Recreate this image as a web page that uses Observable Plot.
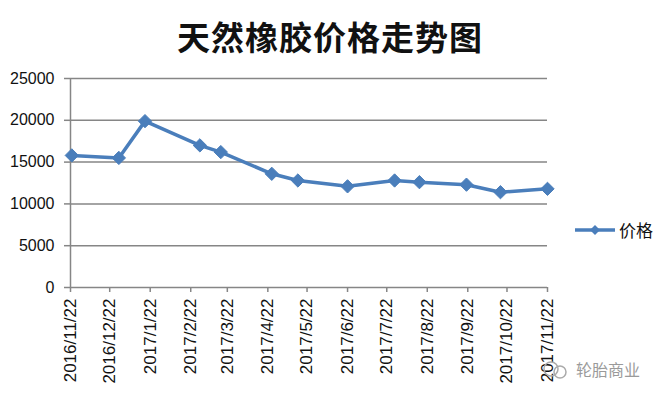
<!DOCTYPE html>
<html>
<head>
<meta charset="utf-8">
<script src="https://cdn.jsdelivr.net/npm/d3@7"></script>
<script src="https://cdn.jsdelivr.net/npm/@observablehq/plot@0.6"></script>
<style>
  body { margin: 0; background: #fff; }
  #wrap { position: relative; width: 660px; height: 400px; overflow: hidden; }
  #title { height: 60px; line-height: 72px; text-align: center; font-family: "Noto Sans CJK SC", sans-serif; font-weight: 700; font-size: 33px; color: #111; letter-spacing: 1px; }
  #legend { position: absolute; left: 574px; top: 217px; display: flex; align-items: center; font-family: "Noto Sans CJK SC", sans-serif; font-size: 17px; color: #111; }
  #mark { position: absolute; left: 540px; top: 357px; display: flex; align-items: center; font-family: "Noto Sans CJK SC", sans-serif; font-size: 16px; color: #9a9a9a; }
</style>
</head>
<body>
<div id="wrap">
  <div id="title">天然橡胶价格走势图</div>
  <div id="chart"></div>
  <div id="legend"></div>
  <div id="mark"></div>
</div>
<script>
const dates = ["2016-11-23","2016-12-29","2017-01-18","2017-03-01","2017-03-17","2017-04-25","2017-05-15","2017-06-22","2017-07-28","2017-08-16","2017-09-21","2017-10-17","2017-11-22"];
const prices = [15800,15500,19900,17000,16200,13600,12800,12100,12800,12600,12300,11400,11800];
const tickDates = ["2016-11-22","2016-12-22","2017-01-22","2017-02-22","2017-03-22","2017-04-22","2017-05-22","2017-06-22","2017-07-22","2017-08-22","2017-09-22","2017-10-22","2017-11-22"];
const yTicks = [0,5000,10000,15000,20000,25000];
const seriesName = "价格";
const color = "#4a7ebb";

const parse = d3.utcParse("%Y-%m-%d");
const data = dates.map((d, i) => ({date: parse(d), price: prices[i]}));
const xt = tickDates.map(parse);
const fmt = d => `${d.getUTCFullYear()}/${d.getUTCMonth() + 1}/${d.getUTCDate()}`;

const chart = Plot.plot({
  width: 660,
  height: 340,
  marginLeft: 70,
  marginRight: 113,
  marginTop: 18,
  marginBottom: 113,
  style: {fontFamily: "'Liberation Sans', Arial, sans-serif", color: "#111", background: "#fff", overflow: "visible"},
  x: {type: "utc", domain: [xt[0], xt[xt.length - 1]]},
  y: {domain: [0, 25000]},
  marks: [
    Plot.gridY(yTicks, {stroke: "#868686", strokeOpacity: 1, strokeWidth: 1.5}),
    Plot.ruleX([xt[0]], {stroke: "#868686", strokeWidth: 1.5}),
    Plot.axisY(yTicks, {tickSize: 6, tickPadding: 10, stroke: "#868686", strokeWidth: 1.5, fontSize: 16, fill: "#111", tickFormat: d => String(d), label: null}),
    Plot.axisX(xt, {tickSize: 5, tickPadding: 6, tickRotate: -90, stroke: "#868686", strokeWidth: 1.5, fontSize: 17, fill: "#111", tickFormat: fmt, label: null}),
    Plot.line(data, {x: "date", y: "price", stroke: color, strokeWidth: 3.5}),
    Plot.dot(data, {x: "date", y: "price", symbol: "diamond2", r: 6, fill: color, stroke: color, strokeWidth: 1})
  ]
});
document.getElementById("chart").appendChild(chart);

document.getElementById("legend").innerHTML =
  `<svg width="44" height="24"><line x1="1" y1="12" x2="41" y2="12" stroke="${color}" stroke-width="3.5"/><path d="M21 7 L26 12 L21 17 L16 12 Z" fill="${color}"/></svg><span style="margin-left:1px">${seriesName}</span>`;
document.getElementById("mark").innerHTML =
  `<svg width="32" height="24"><circle cx="11" cy="12" r="7" fill="none" stroke="#aaa" stroke-width="1.5"/><circle cx="20" cy="15" r="6" fill="none" stroke="#aaa" stroke-width="1.5"/></svg><span style="margin-left:4px">轮胎商业</span>`;
</script>
</body>
</html>
